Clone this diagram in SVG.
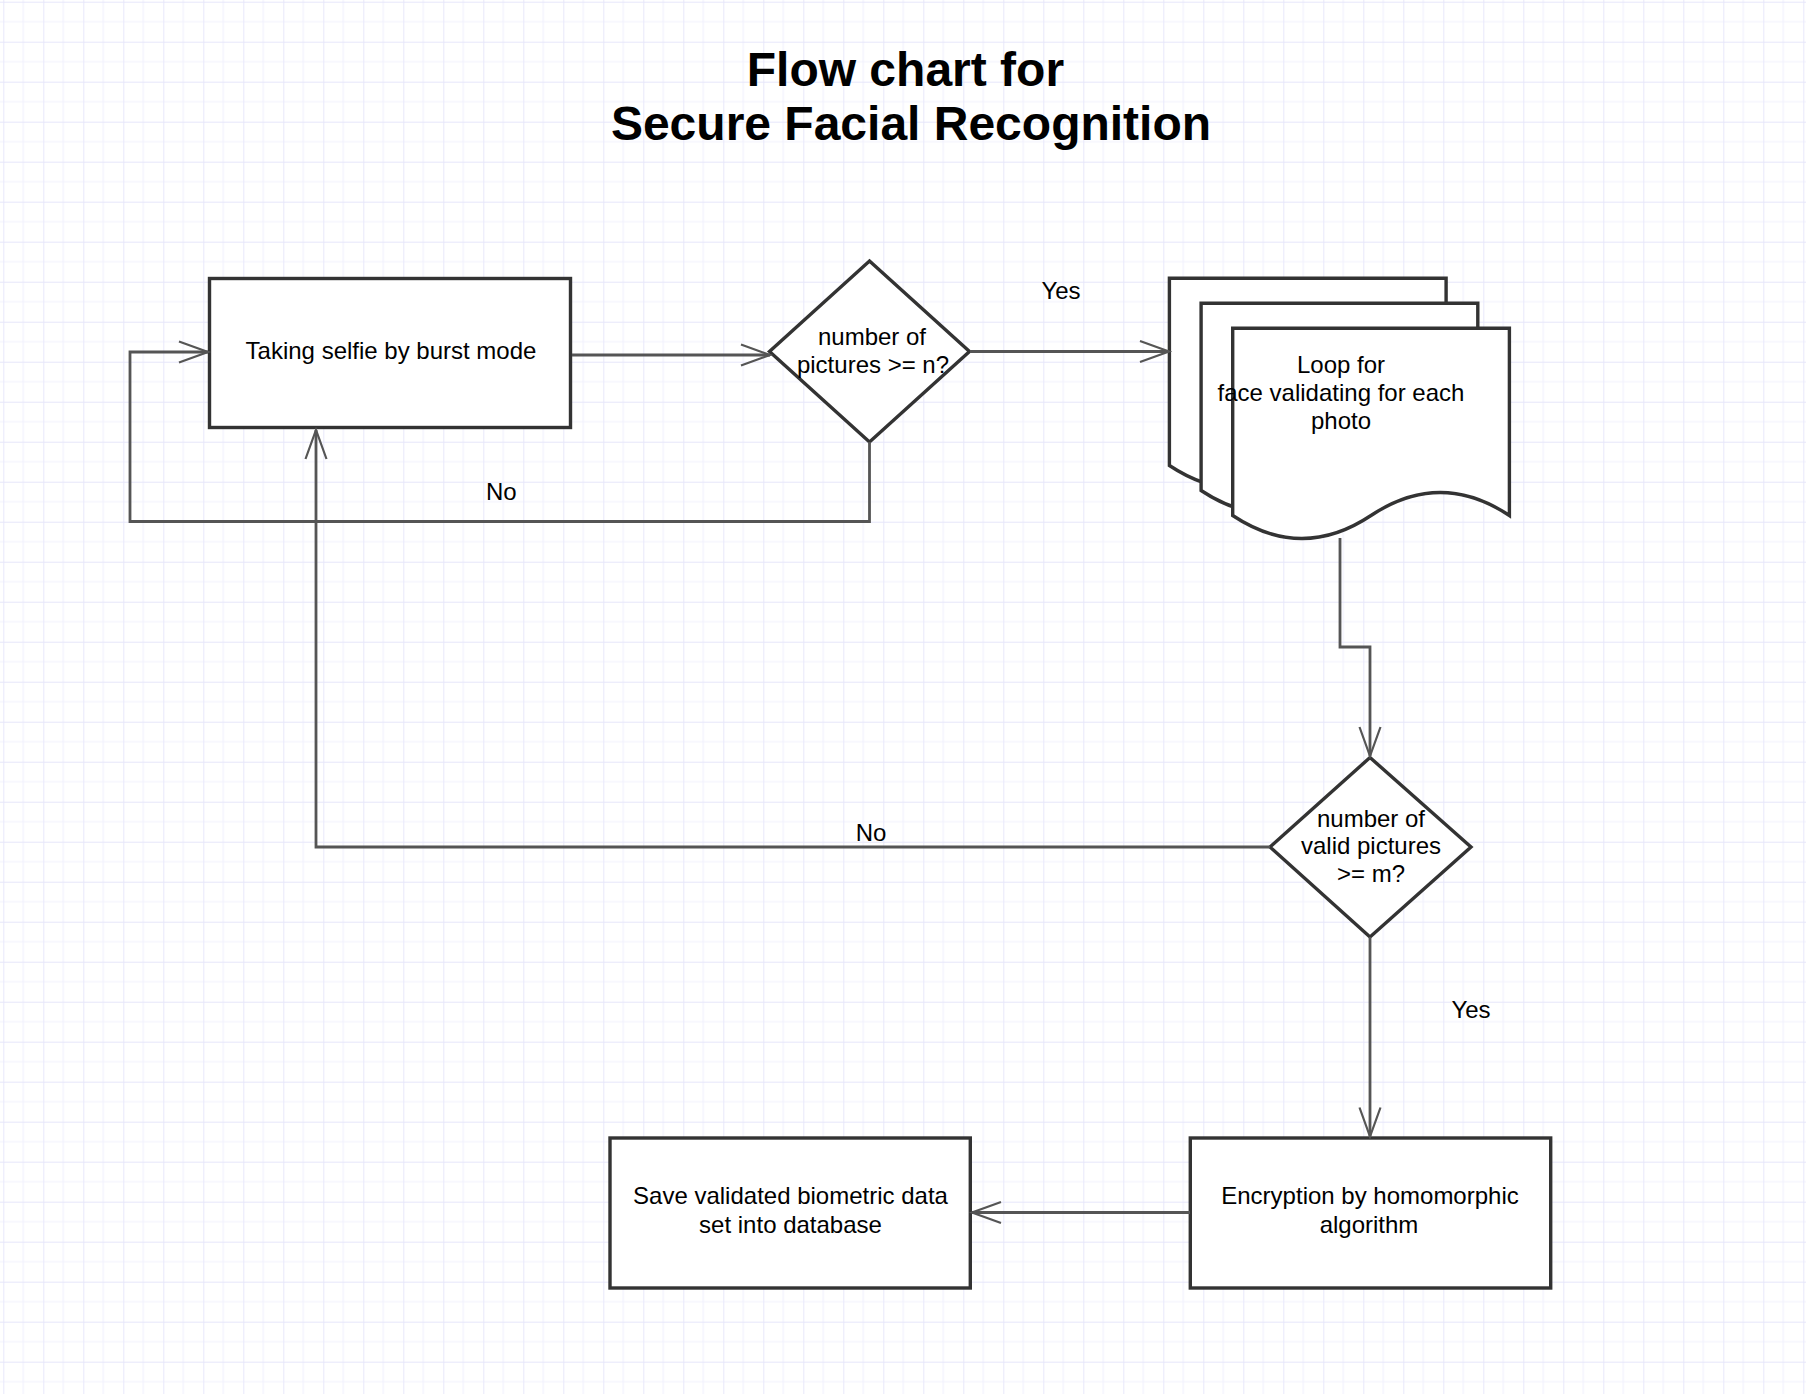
<svg xmlns="http://www.w3.org/2000/svg" width="1806" height="1394" viewBox="0 0 1806 1394">
<style>
.t{font-family:"Liberation Sans",Arial,Helvetica,sans-serif;font-size:24px;fill:#000;text-anchor:middle}
.title{font-family:"Liberation Sans",Arial,Helvetica,sans-serif;font-size:48px;font-weight:bold;fill:#000;text-anchor:middle}
.box{fill:#fff;stroke:#333;stroke-width:3.4}
.con{fill:none;stroke:#555;stroke-width:2.8}
</style>
<defs>
<pattern id="grid" patternUnits="userSpaceOnUse" x="3.3" y="1.7" width="40" height="40">
<path d="M20,0 V40 M0,20 H40" stroke="#f1f1fd" stroke-width="1.2" fill="none"/>
<path d="M0,0 V40 M0,0 H40" stroke="#e6e6fa" stroke-width="1.8" fill="none"/>
</pattern>
<marker id="arr" markerUnits="userSpaceOnUse" markerWidth="40" markerHeight="30" viewBox="-34 -15 38 30" refX="0" refY="0" orient="auto" overflow="visible">
<path d="M-29,-10.5 L0,0 L-29,10.5" fill="none" stroke="#555" stroke-width="2.2"/>
</marker>
</defs>
<rect width="1806" height="1394" fill="#fff"/>
<rect width="1806" height="1394" fill="url(#grid)"/>

<g id="title">
<text class="title" x="905.4" y="86">Flow chart for</text>
<text class="title" x="911" y="139.5">Secure Facial Recognition</text>
</g>

<g id="n-burst">
<rect class="box" x="209.5" y="278.5" width="361" height="149"/>
<text class="t" x="391" y="359">Taking selfie by burst mode</text>
</g>

<g id="n-decision1">
<polygon class="box" points="869.5,261 969.5,351.5 869.5,442 769.5,351.5"/>
<text class="t" x="872" y="345">number of</text>
<text class="t" x="873" y="372.7">pictures &gt;= n?</text>
</g>

<g id="n-loop">
<path class="box" d="M1169.4,278.3 H1446.1 V465.5 Q1376.9,419.5 1307.7,465.5 Q1238.6,511.5 1169.4,465.5 Z"/>
<path class="box" d="M1201.1,303.3 H1477.8 V490.5 Q1408.6,444.5 1339.4,490.5 Q1270.3,536.5 1201.1,490.5 Z"/>
<path class="box" d="M1232.7,328.3 H1509.4 V515.5 Q1440.2,469.5 1371,515.5 Q1301.9,561.5 1232.7,515.5 Z"/>
<text class="t" x="1341" y="373.3">Loop for</text>
<text class="t" x="1341" y="401">face validating for each</text>
<text class="t" x="1341" y="428.5">photo</text>
</g>

<g id="n-decision2">
<polygon class="box" points="1370,757.5 1471,847 1370,937 1270,847"/>
<text class="t" x="1371" y="827.3">number of</text>
<text class="t" x="1371" y="854.3">valid pictures</text>
<text class="t" x="1371" y="881.7">&gt;= m?</text>
</g>

<g id="n-encrypt">
<rect class="box" x="1190.3" y="1138" width="360.4" height="150"/>
<text class="t" x="1370" y="1204.3">Encryption by homomorphic</text>
<text class="t" x="1369" y="1232.7">algorithm</text>
</g>

<g id="n-save">
<rect class="box" x="610" y="1138" width="360.3" height="150"/>
<text class="t" x="790.5" y="1204.3">Save validated biometric data</text>
<text class="t" x="790.5" y="1232.7">set into database</text>
</g>

<g id="connectors">
<path class="con" d="M572,355 L770,355" marker-end="url(#arr)"/>
<path class="con" d="M970,351.5 L1169,351.5" marker-end="url(#arr)"/>
<path class="con" d="M869.5,442 L869.5,521.5 L130,521.5 L130,352 L208,352" marker-end="url(#arr)"/>
<path class="con" d="M1340,538 L1340,647 L1370,647 L1370,756" marker-end="url(#arr)"/>
<path class="con" d="M1270,847 L316,847 L316,430" marker-end="url(#arr)"/>
<path class="con" d="M1370,937 L1370,1136.5" marker-end="url(#arr)"/>
<path class="con" d="M1190,1212.5 L972,1212.5" marker-end="url(#arr)"/>
<text class="t" x="1061" y="299.3">Yes</text>
<text class="t" x="501.3" y="500">No</text>
<text class="t" x="871" y="841">No</text>
<text class="t" x="1471" y="1018.3">Yes</text>
</g>
</svg>
